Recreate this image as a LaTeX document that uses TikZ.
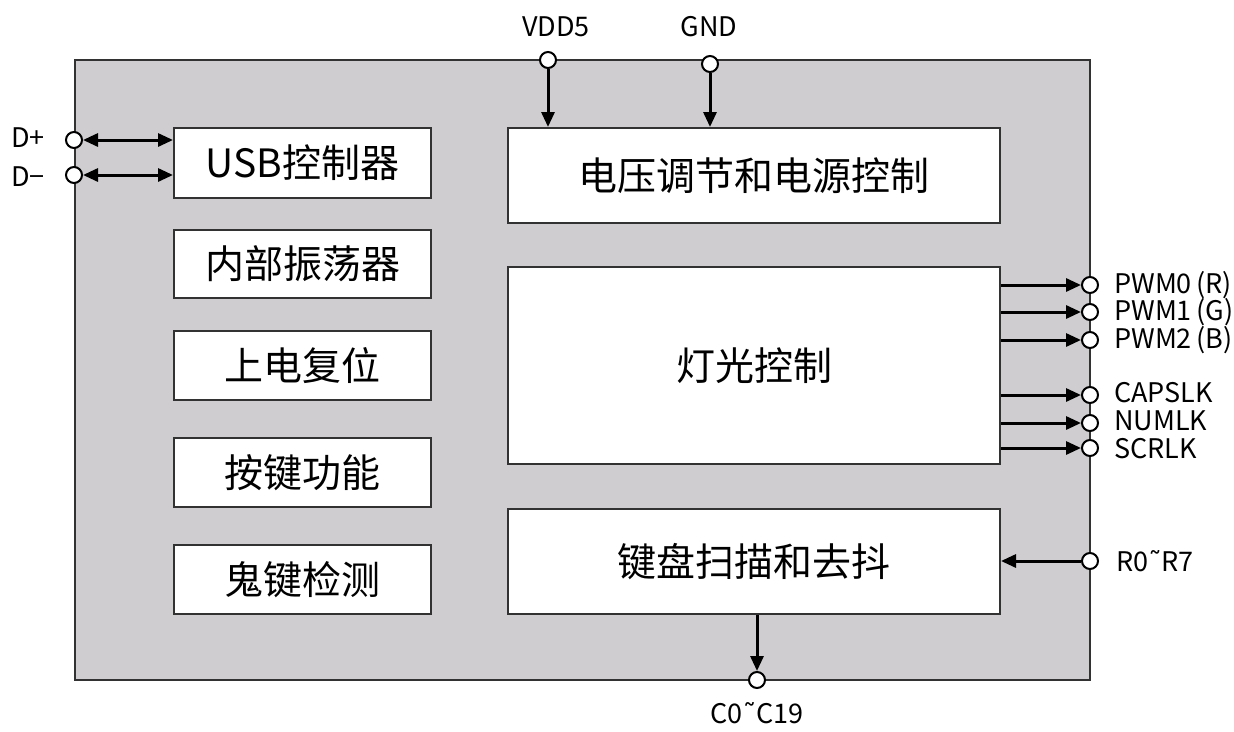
\documentclass[tikz,border=0pt]{standalone}
\usepackage{fontspec}
\setmainfont{Noto Sans CJK SC}
\newfontfamily\lab{Noto Sans CJK SC}
\newfontfamily\dv{DejaVu Sans}
\usetikzlibrary{arrows.meta}
\definecolor{chipgray}{RGB}{207,205,207}
\definecolor{edge}{RGB}{50,50,50}
\newcommand{\tl}{{\dv ˜}}
\tikzset{
  chipbox/.style={draw=edge,line width=2pt,fill=chipgray,minimum width=1015pt,minimum height=620pt,inner sep=0pt},
  blk/.style={draw=edge,line width=2pt,fill=white,inner sep=0pt,font=\fontsize{39}{42}\selectfont},
  lblk/.style={blk,minimum width=257pt,minimum height=69pt},
  rblk/.style={blk,minimum width=492pt},
  pin/.style={circle,draw=black,line width=2pt,fill=white,minimum size=16pt,inner sep=0pt},
  arr/.style={line width=3pt,-{Triangle[length=15pt,width=13pt]}},
  barr/.style={line width=3pt,{Triangle[length=15pt,width=13pt]}-{Triangle[length=15pt,width=13pt]}},
  plabel/.style={font=\lab\fontsize{27}{29}\selectfont,inner sep=0pt}
}
\begin{document}
\begin{tikzpicture}[x=1pt,y=-1pt]
\useasboundingbox (0,0) rectangle (1234,731);
\node[chipbox] (chip) at (582.5,370) {};
% left blocks
\node[lblk,minimum height=70pt] (usb) at (302.5,163) {USB控制器};
\node[lblk,minimum height=68pt] (osc) at (302.5,264) {内部振荡器};
\node[lblk] (por) at (302.5,365.5) {上电复位};
\node[lblk] (key) at (302.5,472.5) {按键功能};
\node[lblk] (ghost) at (302.5,579.5) {鬼键检测};
% right blocks
\node[rblk,minimum height=95pt] (pwr) at (754,175.5) {电压调节和电源控制};
\node[rblk,minimum height=197pt] (led) at (754,365.5) {灯光控制};
\node[rblk,minimum height=105pt] (scan) at (754,561.5) {键盘扫描和去抖};
% pins
\node[pin] (dp) at (74,140) {};
\node[pin] (dm) at (74,175) {};
\node[pin] (vdd) at (548,60) {};
\node[pin] (gnd) at (710,64) {};
\node[pin] (p0) at (1090,285) {};
\node[pin] (p1) at (1090,312) {};
\node[pin] (p2) at (1090,340) {};
\node[pin] (caps) at (1090,395) {};
\node[pin] (num) at (1090,423) {};
\node[pin] (scr) at (1090,448) {};
\node[pin] (row) at (1090,561) {};
\node[pin] (col) at (757,680) {};
% connectors
\draw[barr] (dp) -- (dp -| usb.west);
\draw[barr] (dm) -- (dm -| usb.west);
\draw[arr] (vdd) -- (vdd |- pwr.north);
\draw[arr] (gnd) -- (gnd |- pwr.north);
\foreach \p in {p0,p1,p2,caps,num,scr}{
  \draw[arr] (led.east |- \p) -- (\p);
}
\draw[arr] (row) -- (row -| scan.east);
\draw[arr] (col |- scan.south) -- (col);
% labels
\node[plabel] (ldp) at (28,138) {D+};
\node[plabel] (ldm) at (28,177) {D−};
\node[plabel] (lvdd) at (556,27) {VDD5};
\node[plabel] (lgnd) at (709,27) {GND};
\node[plabel,anchor=west] (lp0) at (1114,285) {PWM0\,(R)};
\node[plabel,anchor=west] (lp1) at (1114,312) {PWM1\,(G)};
\node[plabel,anchor=west] (lp2) at (1114,340) {PWM2\,(B)};
\node[plabel,anchor=west] (lcaps) at (1114,393) {CAPSLK};
\node[plabel,anchor=west] (lnum) at (1114,421) {NUMLK};
\node[plabel,anchor=west] (lscr) at (1114,449) {SCRLK};
\node[plabel,anchor=west] (lrow) at (1116,561) {R0\tl R7};
\node[plabel] (lcol) at (757,713) {C0\tl C19};
\end{tikzpicture}
\end{document}
